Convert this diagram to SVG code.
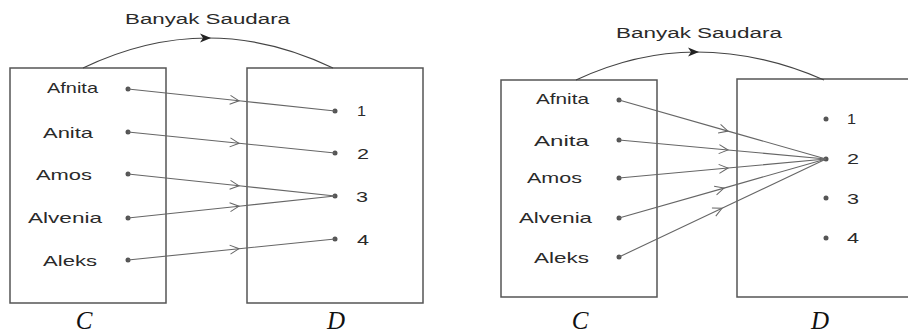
<svg xmlns="http://www.w3.org/2000/svg" width="908" height="334" viewBox="0 0 908 334">
  <defs>
    <style>
      .box { fill: none; stroke: #555; stroke-width: 1.5; }
      .arc { fill: none; stroke: #444; stroke-width: 1.2; }
      .conn { fill: none; stroke: #666; stroke-width: 1.1; }
      .dot { fill: #555; }
      .lbl { font-family: "Liberation Sans", Arial, sans-serif; font-size: 15px; fill: #2a2a2a; }
      .title { font-family: "Liberation Sans", Arial, sans-serif; font-size: 14px; fill: #2a2a2a; }
      .set { font-family: "Liberation Serif", "Times New Roman", serif; font-style: italic; font-size: 25px; fill: #111; text-anchor: middle; }
    </style>
    <marker id="chev" markerWidth="12" markerHeight="12" viewBox="-10 -6 12 12" refX="0" refY="0" orient="auto" markerUnits="userSpaceOnUse">
      <path d="M-9,-4.5 L0,0 L-9,4.5" fill="none" stroke="#666" stroke-width="1"/>
    </marker>
    <marker id="solid" markerWidth="14" markerHeight="12" viewBox="-10 -6 14 12" refX="0" refY="0" orient="auto" markerUnits="userSpaceOnUse">
      <path d="M-8,-4.5 L3,0 L-8,4.5 L-5,0 Z" fill="#222"/>
    </marker>
  </defs>
  <rect width="908" height="334" fill="#fff"/>

  <!-- Left diagram -->
  <g id="left-C">
    <rect class="box" x="10" y="68" width="156" height="235"/>
    <text class="lbl" x="47" y="93" textLength="51" lengthAdjust="spacingAndGlyphs">Afnita</text>
    <text class="lbl" x="43" y="138" textLength="50" lengthAdjust="spacingAndGlyphs">Anita</text>
    <text class="lbl" x="36" y="180" textLength="56" lengthAdjust="spacingAndGlyphs">Amos</text>
    <text class="lbl" x="28" y="223" textLength="74" lengthAdjust="spacingAndGlyphs">Alvenia</text>
    <text class="lbl" x="43" y="266" textLength="54" lengthAdjust="spacingAndGlyphs">Aleks</text>
    <circle class="dot" cx="128" cy="89" r="2.5"/>
    <circle class="dot" cx="128" cy="132" r="2.5"/>
    <circle class="dot" cx="128" cy="174" r="2.5"/>
    <circle class="dot" cx="128" cy="218" r="2.5"/>
    <circle class="dot" cx="128" cy="260" r="2.5"/>
    <text class="set" x="84" y="329">C</text>
  </g>
  <g id="left-D">
    <rect class="box" x="247" y="68" width="176" height="235"/>
    <circle class="dot" cx="335" cy="111" r="2.5"/>
    <circle class="dot" cx="335" cy="153" r="2.5"/>
    <circle class="dot" cx="335" cy="196" r="2.5"/>
    <circle class="dot" cx="335" cy="239" r="2.5"/>
    <text class="lbl" x="357" y="116" textLength="9" lengthAdjust="spacingAndGlyphs">1</text>
    <text class="lbl" x="357" y="159" textLength="12" lengthAdjust="spacingAndGlyphs">2</text>
    <text class="lbl" x="356" y="202" textLength="12" lengthAdjust="spacingAndGlyphs">3</text>
    <text class="lbl" x="357" y="245" textLength="12" lengthAdjust="spacingAndGlyphs">4</text>
    <text class="set" x="336" y="329">D</text>
  </g>
  <g id="left-relation">
    <path class="arc" d="M83,68 Q145.5,38 208,38 Q270.5,38 333,68" marker-mid="url(#solid)"/>
    <text class="title" x="125" y="24" textLength="165" lengthAdjust="spacingAndGlyphs">Banyak Saudara</text>
  </g>
  <g id="left-connectors">
    <path class="conn" d="M128,89 L239,100.8 L335,111" marker-mid="url(#chev)"/>
    <path class="conn" d="M128,132 L239,143.3 L335,153" marker-mid="url(#chev)"/>
    <path class="conn" d="M128,174 L239,185.8 L335,196" marker-mid="url(#chev)"/>
    <path class="conn" d="M128,218 L239,206.2 L335,196" marker-mid="url(#chev)"/>
    <path class="conn" d="M128,260 L239,248.7 L335,239" marker-mid="url(#chev)"/>
  </g>

  <!-- Right diagram -->
  <g id="right-C">
    <rect class="box" x="501" y="80" width="156" height="217"/>
    <text class="lbl" x="536" y="104" textLength="53" lengthAdjust="spacingAndGlyphs">Afnita</text>
    <text class="lbl" x="534" y="146" textLength="55" lengthAdjust="spacingAndGlyphs">Anita</text>
    <text class="lbl" x="527" y="183" textLength="55" lengthAdjust="spacingAndGlyphs">Amos</text>
    <text class="lbl" x="519" y="223" textLength="73" lengthAdjust="spacingAndGlyphs">Alvenia</text>
    <text class="lbl" x="534" y="263" textLength="55" lengthAdjust="spacingAndGlyphs">Aleks</text>
    <circle class="dot" cx="619" cy="100" r="2.5"/>
    <circle class="dot" cx="619" cy="140" r="2.5"/>
    <circle class="dot" cx="619" cy="178" r="2.5"/>
    <circle class="dot" cx="619" cy="218" r="2.5"/>
    <circle class="dot" cx="619" cy="257" r="2.5"/>
    <text class="set" x="580" y="329">C</text>
  </g>
  <g id="right-D">
    <path class="box" d="M908,79 L737,79 L737,297 L908,297"/>
    <circle class="dot" cx="826" cy="119" r="2.5"/>
    <circle class="dot" cx="826" cy="159" r="2.5"/>
    <circle class="dot" cx="826" cy="198" r="2.5"/>
    <circle class="dot" cx="826" cy="238" r="2.5"/>
    <text class="lbl" x="847" y="124" textLength="9" lengthAdjust="spacingAndGlyphs">1</text>
    <text class="lbl" x="847" y="164" textLength="12" lengthAdjust="spacingAndGlyphs">2</text>
    <text class="lbl" x="847" y="204" textLength="12" lengthAdjust="spacingAndGlyphs">3</text>
    <text class="lbl" x="847" y="243" textLength="12" lengthAdjust="spacingAndGlyphs">4</text>
    <text class="set" x="820" y="329">D</text>
  </g>
  <g id="right-relation">
    <path class="arc" d="M576,80 Q636,52 696,52 Q760,52 824,80" marker-mid="url(#solid)"/>
    <text class="title" x="616" y="38" textLength="166" lengthAdjust="spacingAndGlyphs">Banyak Saudara</text>
  </g>
  <g id="right-connectors">
    <path class="conn" d="M619,100 L728,131.1 L826,159" marker-mid="url(#chev)"/>
    <path class="conn" d="M619,140 L728,150 L826,159" marker-mid="url(#chev)"/>
    <path class="conn" d="M619,178 L728,168 L826,159" marker-mid="url(#chev)"/>
    <path class="conn" d="M619,218 L724,188.1 L826,159" marker-mid="url(#chev)"/>
    <path class="conn" d="M619,257 L722,208.2 L826,159" marker-mid="url(#chev)"/>
  </g>
</svg>
